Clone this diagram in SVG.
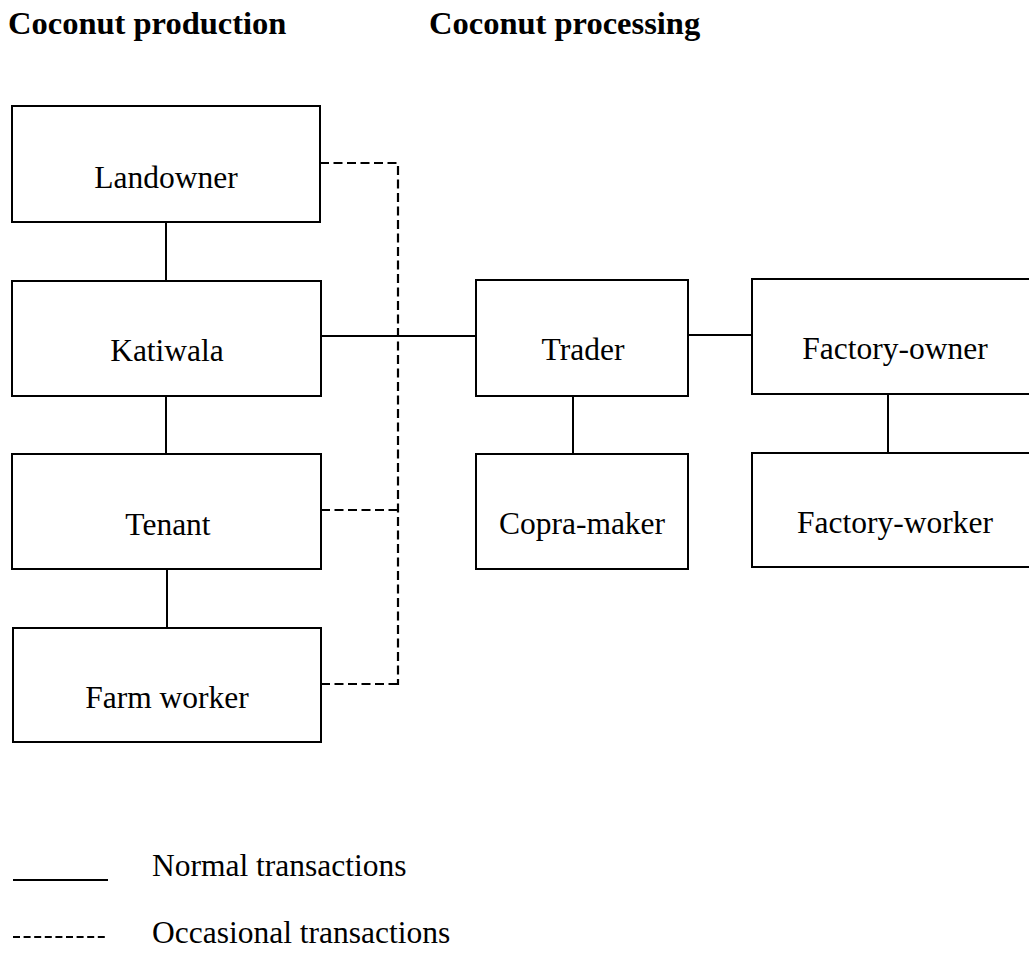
<svg xmlns="http://www.w3.org/2000/svg" width="1029" height="955" viewBox="0 0 1029 955">
<style>
.box{fill:#fff;stroke:#000;stroke-width:2}
.lbl{font-family:"Liberation Serif","Times New Roman",serif;font-size:31.5px;fill:#000;text-anchor:middle}
.head{font-family:"Liberation Serif","Times New Roman",serif;font-size:32.5px;font-weight:bold;fill:#000}
.leg{font-family:"Liberation Serif","Times New Roman",serif;font-size:31.5px;fill:#000}
.solid{fill:none;stroke:#000;stroke-width:2}
.dash{fill:none;stroke:#000;stroke-width:2.2;stroke-dasharray:9 4.5}
</style>
<rect width="1029" height="955" fill="#fff"/>
<g id="headings">
<text class="head" x="8" y="34">Coconut production</text>
<text class="head" x="429" y="34">Coconut processing</text>
</g>
<g id="connectors">
<line class="solid" x1="166" y1="222" x2="166" y2="281"/>
<line class="solid" x1="166" y1="396" x2="166" y2="454"/>
<line class="solid" x1="167" y1="569" x2="167" y2="628"/>
<line class="solid" x1="321" y1="336" x2="476" y2="336"/>
<line class="solid" x1="688" y1="335" x2="752" y2="335"/>
<line class="solid" x1="573" y1="396" x2="573" y2="454"/>
<line class="solid" x1="888" y1="394" x2="888" y2="453"/>
<path class="dash" d="M320,163 H398 V685"/>
<path class="dash" d="M321,510 H398"/>
<path class="dash" d="M321,684 H399"/>
</g>
<g id="landowner">
<rect class="box" x="12" y="106" width="308" height="116"/>
<text class="lbl" x="166" y="188">Landowner</text>
</g>
<g id="katiwala">
<rect class="box" x="12" y="281" width="309" height="115"/>
<text class="lbl" x="167" y="361">Katiwala</text>
</g>
<g id="tenant">
<rect class="box" x="12" y="454" width="309" height="115"/>
<text class="lbl" x="168" y="535">Tenant</text>
</g>
<g id="farm-worker">
<rect class="box" x="13" y="628" width="308" height="114"/>
<text class="lbl" x="167" y="708">Farm worker</text>
</g>
<g id="trader">
<rect class="box" x="476" y="280" width="212" height="116"/>
<text class="lbl" x="583" y="360">Trader</text>
</g>
<g id="copra-maker">
<rect class="box" x="476" y="454" width="212" height="115"/>
<text class="lbl" x="582" y="534">Copra-maker</text>
</g>
<g id="factory-owner">
<rect class="box" x="752" y="279" width="290" height="115"/>
<text class="lbl" x="895" y="359">Factory-owner</text>
</g>
<g id="factory-worker">
<rect class="box" x="752" y="453" width="290" height="114"/>
<text class="lbl" x="895" y="533">Factory-worker</text>
</g>
<g id="legend">
<line class="solid" x1="13" y1="880" x2="108" y2="880"/>
<text class="leg" x="152" y="876">Normal transactions</text>
<line x1="13" y1="937" x2="108" y2="937" stroke="#000" stroke-width="2" stroke-dasharray="7 3.6"/>
<text class="leg" x="152" y="943">Occasional transactions</text>
</g>
</svg>
